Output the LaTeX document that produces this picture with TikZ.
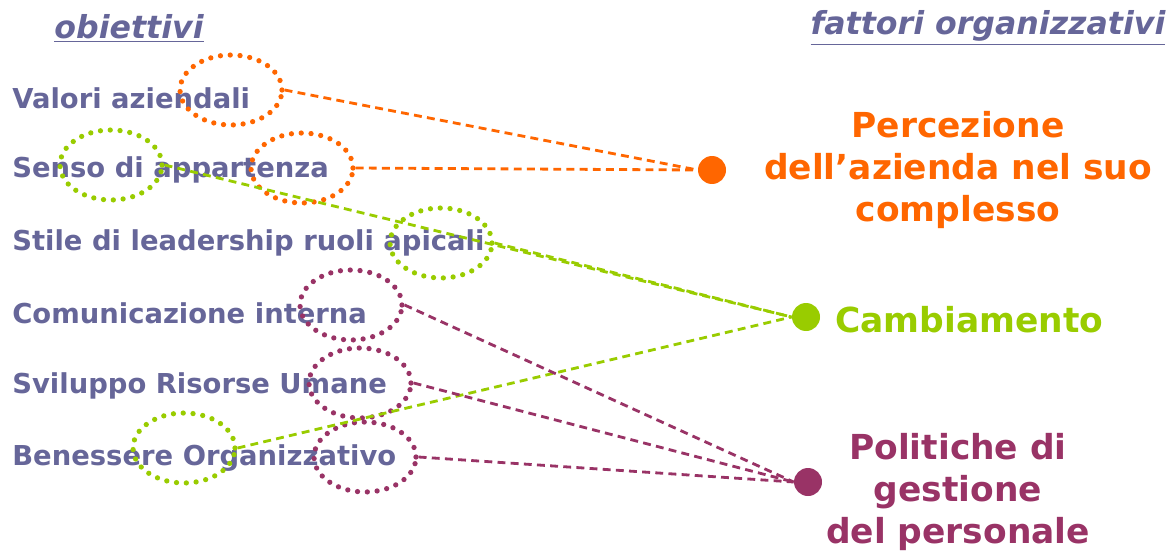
\documentclass[tikz,border=0pt]{standalone}
\usepackage{fontspec}
\setmainfont{DejaVu Sans}
\usepackage{tikz}
\usetikzlibrary{shapes.geometric}
\definecolor{testo}{HTML}{666699}
\definecolor{arancio}{HTML}{FF6600}
\definecolor{verde}{HTML}{99CC00}
\definecolor{viola}{HTML}{993366}

\tikzset{
  voce/.style={anchor=west, inner sep=0pt, text=testo, font=\bfseries\fontsize{15.6}{19}\selectfont},
  titolo/.style={inner sep=0pt, text=testo, font=\bfseries\itshape\fontsize{18}{21}\selectfont},
  anello/.style={ellipse, draw=#1, line width=3pt, line cap=round, dash pattern=on 0pt off 5.6pt, minimum width=2.04cm, minimum height=1.4cm, inner sep=0pt},
  pallino/.style={circle, fill=#1, minimum size=0.56cm, inner sep=0pt},
  legame/.style={draw=#1, line width=1.6pt, dash pattern=on 4.5pt off 3pt},
  fattore/.style={align=center, inner sep=0pt, text=#1, font=\bfseries\fontsize{19.6}{23.8}\selectfont}
}

\begin{document}
\begin{tikzpicture}[x=0.02cm, y=-0.02cm]
        \useasboundingbox (0,0) rectangle (1176,551);

        % titoli
        \node[titolo] at (129,28) (tObiettivi) {\underline{obiettivi}};
        \node[titolo] at (988,28) (tFattori) {\underline{fattori organizzativi}};

        % obiettivi
        \node[voce] at (12,98)  (valori) {Valori aziendali};
        \node[voce] at (12,170) (senso) {Senso di appartenza};
        \node[voce] at (12,243) (stile) {Stile di leadership ruoli apicali};
        \node[voce] at (12,313) (comunicazione) {Comunicazione interna};
        \node[voce] at (12,386) (sviluppo) {Sviluppo Risorse Umane};
        \node[voce] at (12,458) (benessere) {Benessere Organizzativo};

        % anelli
        \node[anello=arancio] at (231,90)  (eValori) {};
        \node[anello=arancio] at (302,168) (eTenza) {};
        \node[anello=verde]   at (111,165) (eSenso) {};
        \node[anello=verde]   at (441,243) (eApicali) {};
        \node[anello=viola]   at (351,305) (eInterna) {};
        \node[anello=viola]   at (360,383) (eUmane) {};
        \node[anello=verde]   at (184,448) (eBenessere) {};
        \node[anello=viola]   at (365,457) (eOrganizzativo) {};

        % fattori
        \node[pallino=arancio] at (712,170) (dPerc) {};
        \node[pallino=verde]   at (806,317) (dCamb) {};
        \node[pallino=viola]   at (808,482) (dPol) {};
        \node[fattore=arancio] at (958,170) (fPerc) {Percezione\\dell’azienda nel suo\\complesso};
        \node[fattore=verde, anchor=west] at (835,320) (fCamb) {Cambiamento};
        \node[fattore=viola]   at (958,492) (fPol) {Politiche di\\gestione\\del personale};

        % legami
        \draw[legame=arancio] (eValori.east) -- (dPerc.west);
        \draw[legame=arancio] (eTenza.east) -- (dPerc.west);
        \draw[legame=verde] (eSenso.east) -- (dCamb.west);
        \draw[legame=verde] (eApicali.east) -- (dCamb.west);
        \draw[legame=verde] (eBenessere.east) -- (dCamb.west);
        \draw[legame=viola] (eInterna.east) -- (dPol.west);
        \draw[legame=viola] (eUmane.east) -- (dPol.west);
        \draw[legame=viola] (eOrganizzativo.east) -- (dPol.west);
\end{tikzpicture}
\end{document}
